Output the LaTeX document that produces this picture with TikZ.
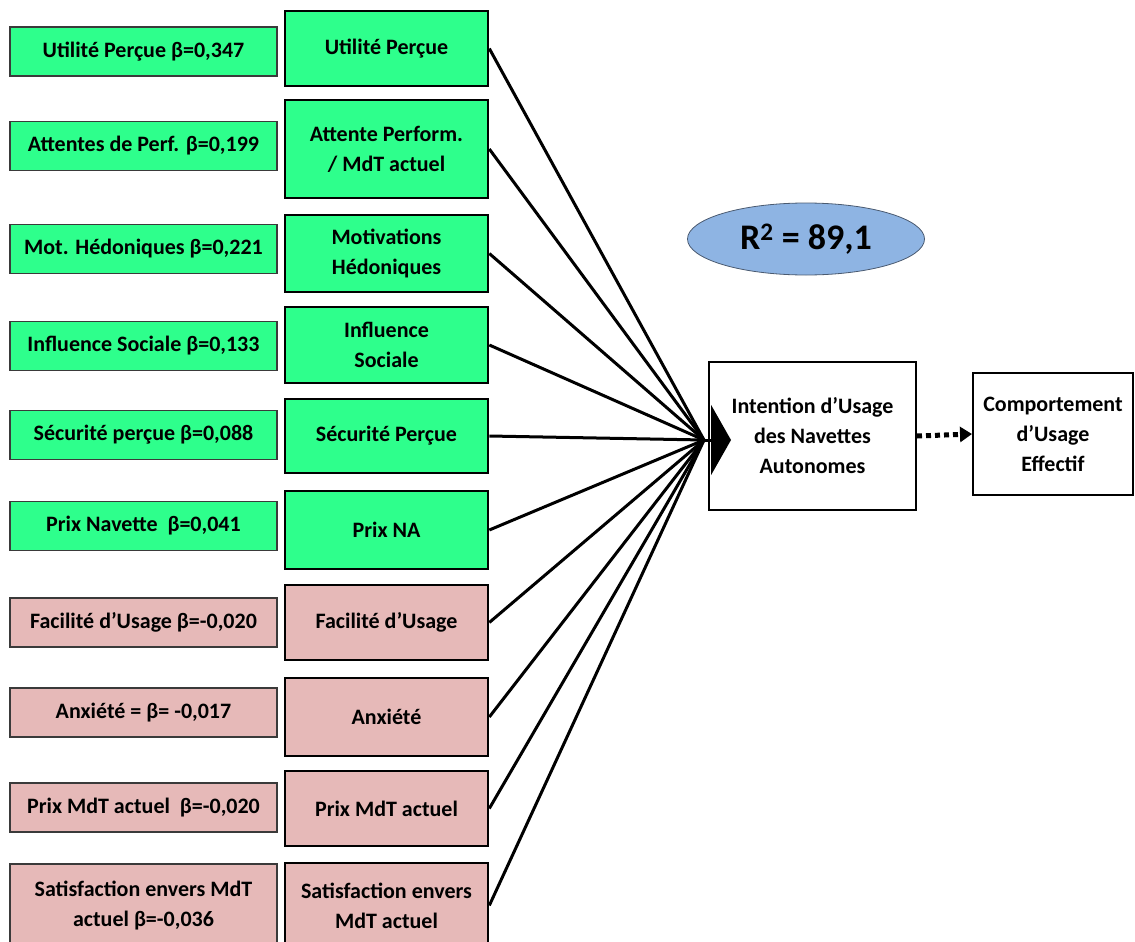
\documentclass[tikz,border=0pt]{standalone}
\usepackage{fontspec}
\setmainfont{Carlito}
\usetikzlibrary{arrows.meta,shapes.geometric}
\definecolor{posFill}{HTML}{2EFF8C}
\definecolor{negFill}{HTML}{E6B9B8}
\definecolor{rsqFill}{HTML}{8EB4E3}
\definecolor{rsqLine}{HTML}{4A5A70}
\definecolor{betaLine}{HTML}{3A3A3A}

\begin{document}
\begin{tikzpicture}[
    x=1pt, y=-1pt,
    font=\fontsize{22}{30}\selectfont\bfseries,
    beta/.style={rectangle, draw=betaLine, line width=1.2pt, align=center,
                 inner sep=0pt, minimum width=267pt, minimum height=49pt},
    posbeta/.style={beta, fill=posFill},
    negbeta/.style={beta, fill=negFill},
    factor/.style={rectangle, draw=black, line width=2.6pt, align=center,
                   inner sep=0pt, minimum width=203pt},
    posfactor/.style={factor, fill=posFill},
    negfactor/.style={factor, fill=negFill},
    outcome/.style={rectangle, draw=black, line width=2pt, align=center, inner sep=0pt},
    link/.style={draw=black, line width=3pt},
  ]
  \useasboundingbox (0,0) rectangle (1135,942);

  % Column x-positions
  \def\cA{143.5}\def\cB{386.5}

  % BETA COEFFICIENTS
  \node[posbeta] (beta1) at (\cA, 51.5) {Utilité Perçue β=0,347};
  \node[posbeta] (beta2) at (\cA, 146) {Attentes de Perf. β=0,199};
  \node[posbeta] (beta3) at (\cA, 249) {Mot. Hédoniques β=0,221};
  \node[posbeta] (beta4) at (\cA, 346) {Influence Sociale β=0,133};
  \node[posbeta] (beta5) at (\cA, 435) {Sécurité perçue β=0,088};
  \node[posbeta] (beta6) at (\cA, 526) {Prix Navette\ \ β=0,041};
  \node[negbeta] (beta7) at (\cA, 622.5) {Facilité d’Usage β=-0,020};
  \node[negbeta] (beta8) at (\cA, 712.5) {Anxiété = β= -0,017};
  \node[negbeta] (beta9) at (\cA, 807.5) {Prix MdT actuel\ \ β=-0,020};
  \node[negbeta, minimum height=84pt] (beta10) at (\cA, 906) {Satisfaction envers MdT\\ actuel β=-0,036};

  % FACTORS
  \node[posfactor, minimum height=75pt] (fac1) at (\cB, 48.5) {Utilité Perçue};
  \node[posfactor, minimum height=98pt] (fac2) at (\cB, 149) {Attente Perform.\\ / MdT actuel};
  \node[posfactor, minimum height=77pt] (fac3) at (\cB, 253.5) {Motivations\\ Hédoniques};
  \node[posfactor, minimum height=76pt] (fac4) at (\cB, 345) {Influence\\ Sociale};
  \node[posfactor, minimum height=74pt] (fac5) at (\cB, 436) {Sécurité Perçue};
  \node[posfactor, minimum height=78pt] (fac6) at (\cB, 530) {Prix NA};
  \node[negfactor, minimum height=75pt] (fac7) at (\cB, 622.5) {Facilité d’Usage};
  \node[negfactor, minimum height=78pt] (fac8) at (\cB, 717) {Anxiété};
  \node[negfactor, minimum height=75pt] (fac9) at (\cB, 808.5) {Prix MdT actuel};
  \node[negfactor, minimum height=85pt] (fac10) at (\cB, 905.5) {Satisfaction envers\\ MdT actuel};

  % INTENTION AND BEHAVIOUR
  \node[outcome, minimum width=207pt, minimum height=148pt] (intent) at (812.5, 436)
    {Intention d’Usage\\ des Navettes\\ Autonomes};
  \node[outcome, minimum width=160pt, minimum height=122pt] (behav) at (1053, 434)
    {Comportement\\ d’Usage\\ Effectif};
  \node[ellipse, draw=rsqLine, fill=rsqFill, line width=0.8pt, inner sep=0pt,
        minimum width=237pt, minimum height=72pt,
        font=\fontsize{36}{40}\selectfont\bfseries] (rsq) at (806, 239) {R\textsuperscript{2} = 89,1};

  % LINKS
  \coordinate (conv) at (704, 440);
  \coordinate (tip) at (731, 440);
  \draw[link] (fac1.east) -- (conv);
  \draw[link] (fac2.east) -- (conv);
  \draw[link] (fac3.east) -- (conv);
  \draw[link] (fac4.east) -- (conv);
  \draw[link] (fac5.east) -- (conv);
  \draw[link] (fac6.east) -- (conv);
  \draw[link] (fac7.east) -- (conv);
  \draw[link] (fac8.east) -- (conv);
  \draw[link] (fac9.east) -- (conv);
  \draw[link] (fac10.east) -- (conv);
  \draw[link, -{Triangle[length=20pt, width=70pt]}] (conv) -- (tip);
  \draw[line width=5pt, dash pattern=on 5pt off 4pt, -{Triangle[length=12pt, width=15pt]}]
    (intent.east) -- (behav.west);

\end{tikzpicture}
\end{document}
